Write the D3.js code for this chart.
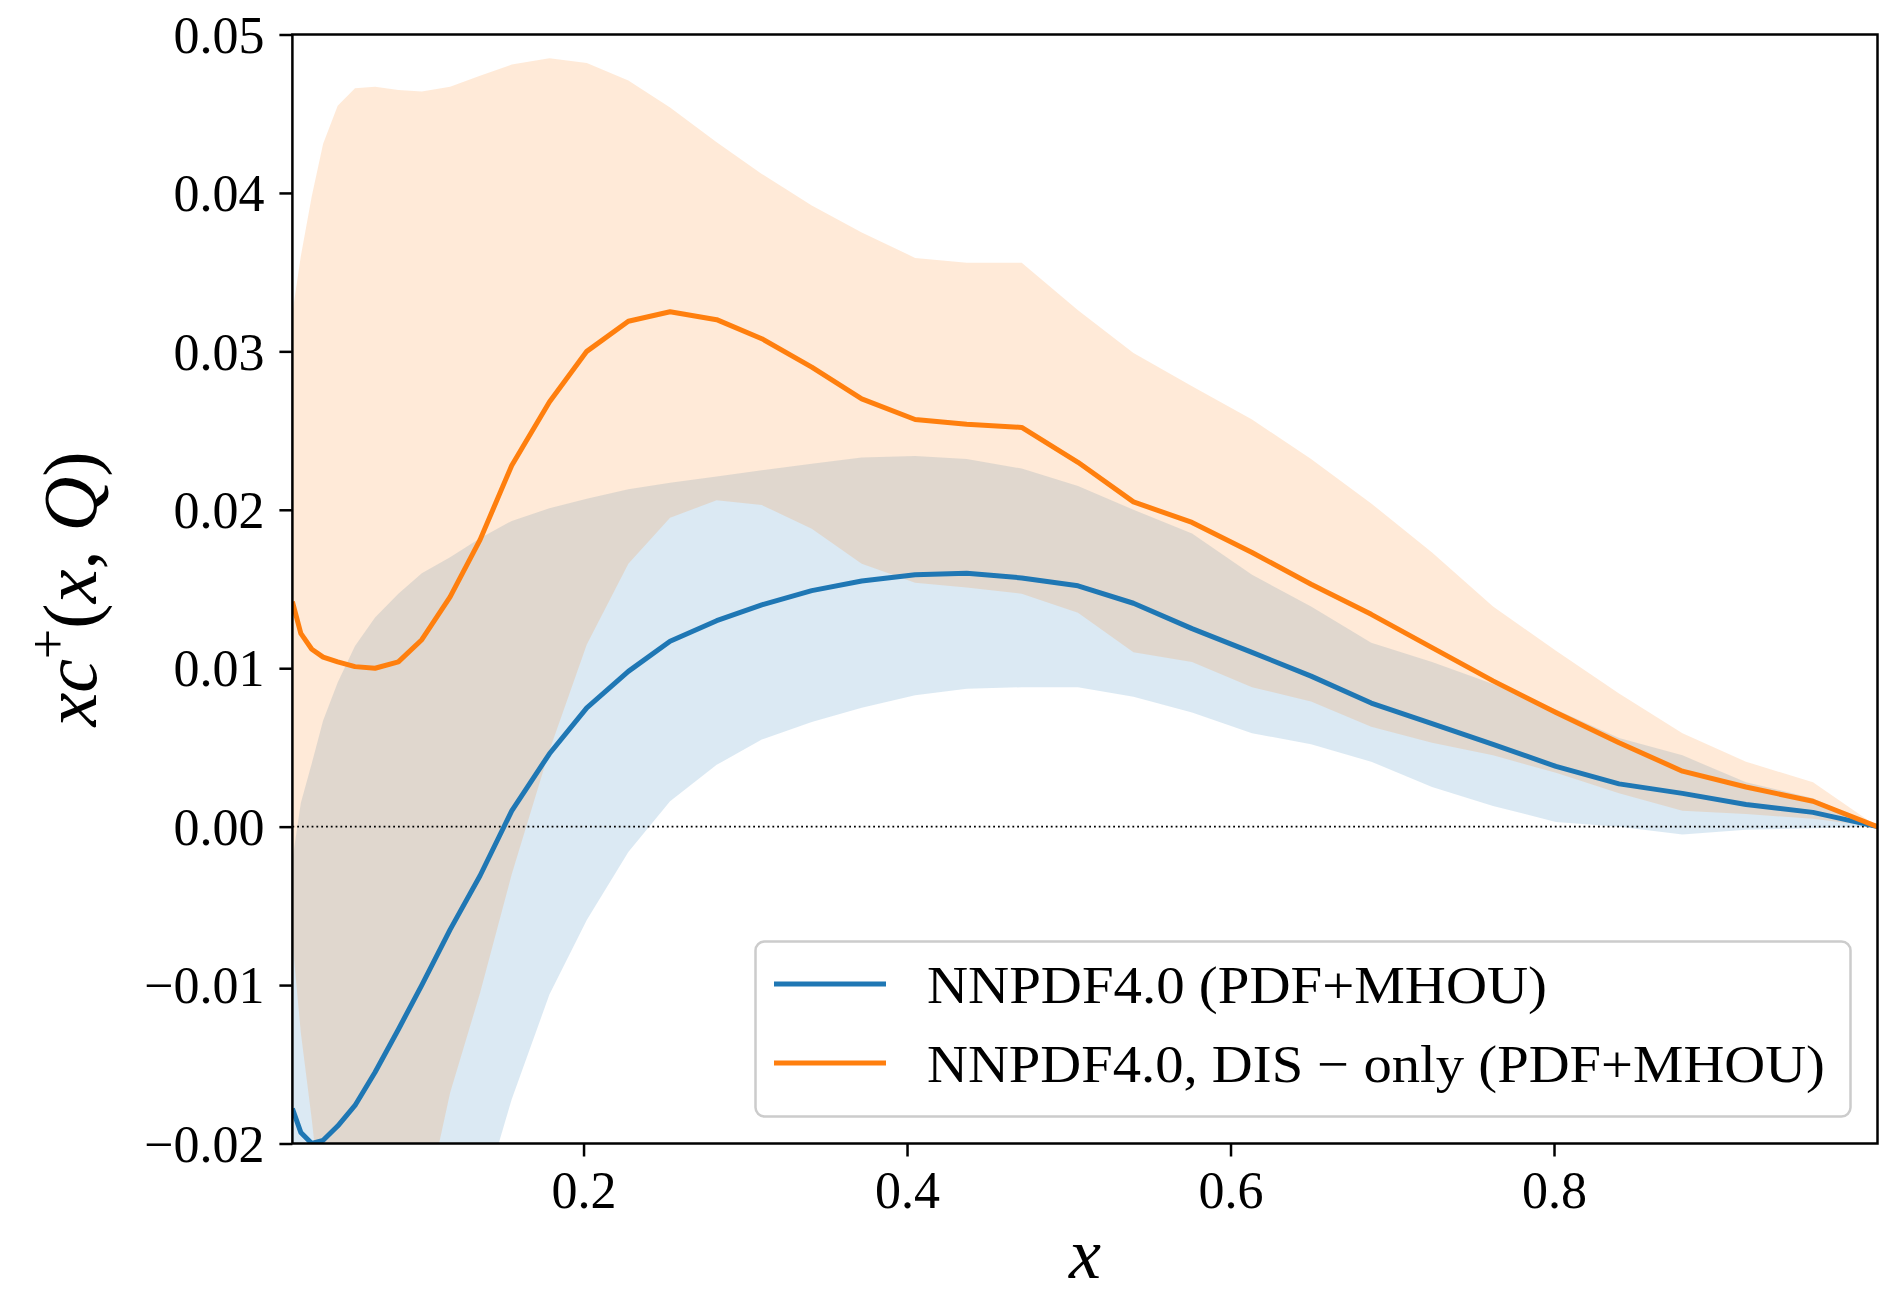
<!DOCTYPE html>
<html>
<head>
<meta charset="utf-8">
<script src="https://cdn.jsdelivr.net/npm/d3@7"></script>
<style>
  body { margin: 0; background: #fff; }
  svg { display: block; font-family: 'Liberation Serif', 'Times New Roman', serif; }
</style>
</head>
<body>
<svg id="chart"></svg>
<script>
// x grid shared by both fits
const xGrid = [
  0.02, 0.0252, 0.032, 0.039, 0.048, 0.0587, 0.0711, 0.0855, 0.1, 0.1175,
  0.136, 0.1556, 0.1789, 0.202, 0.2277, 0.2535, 0.2823, 0.3102, 0.3411, 0.372,
  0.405, 0.4369, 0.4709, 0.5057, 0.54, 0.5762, 0.6133, 0.6498, 0.687, 0.7246,
  0.7623, 0.8012, 0.8402, 0.8794, 0.9187, 0.9601, 1.0
];

// NNPDF4.0 (PDF+MHOU)
const blueCentral = [
  -0.0178, -0.0193, -0.0200, -0.0198, -0.0189, -0.0176, -0.0155, -0.0128, -0.0100, -0.0065,
  -0.0031, 0.0010, 0.0046, 0.0075, 0.0098, 0.0117, 0.0130, 0.0140, 0.0149, 0.0155,
  0.0159, 0.0160, 0.0157, 0.0152, 0.0141, 0.0125, 0.0110, 0.0095, 0.0078, 0.0065,
  0.0052, 0.0038, 0.0027, 0.0021, 0.0014, 0.0009, 0.0
];
const blueUpper = [
  -0.0021, 0.0015, 0.0040, 0.0067, 0.0091, 0.0114, 0.0132, 0.0147, 0.0160, 0.0170,
  0.0182, 0.0193, 0.0201, 0.0207, 0.0213, 0.0217, 0.0221, 0.0225, 0.0229, 0.0233,
  0.0234, 0.0232, 0.0226, 0.0215, 0.0200, 0.0185, 0.0159, 0.0139, 0.0116, 0.0104,
  0.0090, 0.0074, 0.0056, 0.0045, 0.0028, 0.0018, 0.0
];
const blueLower = [
  -0.060, -0.062, -0.062, -0.060, -0.057, -0.053, -0.048, -0.042, -0.036, -0.030,
  -0.024, -0.0172, -0.0106, -0.0059, -0.0016, 0.0016, 0.0039, 0.0055, 0.0066, 0.0075,
  0.0083, 0.0087, 0.0088, 0.0088, 0.0082, 0.0072, 0.0059, 0.0052, 0.0041, 0.0025,
  0.0013, 0.0003, 0.0000, -0.0005, -0.0002, -0.0001, 0.0
];

// NNPDF4.0, DIS-only (PDF+MHOU)
const orangeCentral = [
  0.0142, 0.0122, 0.0112, 0.0107, 0.0104, 0.0101, 0.0100, 0.0104, 0.0118, 0.0145,
  0.0181, 0.0228, 0.0268, 0.0300, 0.0319, 0.0325, 0.0320, 0.0308, 0.0290, 0.0270,
  0.0257, 0.0254, 0.0252, 0.0230, 0.0205, 0.0192, 0.0173, 0.0153, 0.0134, 0.0113,
  0.0092, 0.0072, 0.0053, 0.0035, 0.0025, 0.0016, 0.0
];
const orangeUpper = [
  0.0324, 0.0360, 0.0398, 0.0431, 0.0455, 0.0466, 0.0467, 0.0465, 0.0464, 0.0467,
  0.0474, 0.0481, 0.0485, 0.0482, 0.0471, 0.0454, 0.0432, 0.0412, 0.0392, 0.0375,
  0.0359, 0.0356, 0.0356, 0.0326, 0.0299, 0.0278, 0.0257, 0.0232, 0.0204, 0.0173,
  0.0139, 0.0111, 0.0084, 0.0059, 0.0041, 0.0028, 0.0
];
const orangeLower = [
  -0.0072, -0.0130, -0.0185, -0.0250, -0.0300, -0.0330, -0.0330, -0.0300, -0.0250, -0.0168,
  -0.0105, -0.0030, 0.0048, 0.0115, 0.0166, 0.0195, 0.0206, 0.0203, 0.0188, 0.0166,
  0.0154, 0.0151, 0.0147, 0.0135, 0.0110, 0.0104, 0.0088, 0.0079, 0.0063, 0.0053,
  0.0045, 0.0034, 0.0021, 0.0010, 0.0008, 0.0005, 0.0
];

const yTicks = [-0.02, -0.01, 0.0, 0.01, 0.02, 0.03, 0.04, 0.05];
const yTickLabels = ['\u22120.02', '\u22120.01', '0.00', '0.01', '0.02', '0.03', '0.04', '0.05'];
const xTicks = [0.2, 0.4, 0.6, 0.8];
const xTickLabels = ['0.2', '0.4', '0.6', '0.8'];
const seriesLabels = ['NNPDF4.0 (PDF+MHOU)', 'NNPDF4.0, DIS \u2212 only (PDF+MHOU)'];

class PdfPlot {
  constructor() {
    this.size = {width: 1896, height: 1294};
    this.margin = {top: 34.5, right: 18.5, bottom: 150.5, left: 292.4};
    this.colors = {blue: '#1f77b4', orange: '#ff7f0e'};
    this.BAND_ALPHA = 0.16;
    this.LINE_WIDTH = 5;
  }

  init() {
    this.innerWidth = this.size.width - this.margin.left - this.margin.right;
    this.innerHeight = this.size.height - this.margin.top - this.margin.bottom;

    this.x = d3.scaleLinear().domain([0.02, 1]).range([0, this.innerWidth]);
    this.y = d3.scaleLinear().domain([-0.02, 0.05]).range([this.innerHeight, 0]);

    this.svg = d3.select('#chart')
      .attr('width', this.size.width)
      .attr('height', this.size.height);

    this.g = this.svg.append('g')
      .attr('transform', `translate(${this.margin.left},${this.margin.top})`);

    this.g.append('clipPath')
      .attr('id', 'plot_clip')
    .append('rect')
      .attr('width', this.innerWidth)
      .attr('height', this.innerHeight);

    this.plot = this.g.append('g').attr('clip-path', 'url(#plot_clip)');

    this.renderBands();
    this.renderZeroLine();
    this.renderLines();
    this.renderAxes();
    this.renderLegend();
  }

  renderBands() {
    let band = (lo, hi) => d3.area()
      .x((d, i) => this.x(xGrid[i]))
      .y0((d, i) => this.y(lo[i]))
      .y1((d, i) => this.y(hi[i]));

    this.plot.append('path')
      .datum(xGrid)
      .attr('fill', this.colors.blue)
      .attr('fill-opacity', this.BAND_ALPHA)
      .attr('d', band(blueLower, blueUpper));

    this.plot.append('path')
      .datum(xGrid)
      .attr('fill', this.colors.orange)
      .attr('fill-opacity', this.BAND_ALPHA)
      .attr('d', band(orangeLower, orangeUpper));
  }

  renderZeroLine() {
    this.plot.append('line')
      .attr('x1', 0)
      .attr('x2', this.innerWidth)
      .attr('y1', this.y(0))
      .attr('y2', this.y(0))
      .attr('stroke', '#000')
      .attr('stroke-width', 1.6)
      .attr('stroke-dasharray', '1.8,3');
  }

  renderLines() {
    let line = (values) => d3.line()
      .x((d, i) => this.x(xGrid[i]))
      .y((d, i) => this.y(values[i]));

    [[blueCentral, this.colors.blue], [orangeCentral, this.colors.orange]]
      .forEach(([values, color]) => {
        this.plot.append('path')
          .datum(xGrid)
          .attr('fill', 'none')
          .attr('stroke', color)
          .attr('stroke-width', this.LINE_WIDTH)
          .attr('stroke-linejoin', 'round')
          .attr('d', line(values));
      });
  }

  renderAxes() {
    // Left axis
    let yAxis = this.g.append('g')
      .call(d3.axisLeft(this.y)
        .tickValues(yTicks)
        .tickFormat((d, i) => yTickLabels[i])
        .tickSize(13)
        .tickSizeOuter(0)
        .tickPadding(15));

    // Bottom axis
    let xAxis = this.g.append('g')
      .attr('transform', `translate(0,${this.innerHeight})`)
      .call(d3.axisBottom(this.x)
        .tickValues(xTicks)
        .tickFormat((d, i) => xTickLabels[i])
        .tickSize(13)
        .tickSizeOuter(0)
        .tickPadding(15));

    [yAxis, xAxis].forEach((axis) => {
      axis.select('.domain').remove();
      axis.selectAll('.tick line')
        .attr('stroke', '#000')
        .attr('stroke-width', 2.5);
      axis.selectAll('.tick text')
        .attr('fill', '#000')
        .style('font-family', "'Liberation Serif', serif")
        .style('font-size', '52px');
    });
    yAxis.selectAll('.tick text').attr('dy', '0.34em');

    // Frame
    this.g.append('rect')
      .attr('width', this.innerWidth)
      .attr('height', this.innerHeight)
      .attr('fill', 'none')
      .attr('stroke', '#000')
      .attr('stroke-width', 2.5);

    // Axis titles
    this.svg.append('text')
      .attr('x', 1085)
      .attr('y', 1278)
      .attr('text-anchor', 'middle')
      .style('font-size', '72px')
      .style('font-style', 'italic')
      .text('x');

    let yLabel = this.svg.append('text')
      .attr('transform', `translate(96,${this.margin.top + this.innerHeight / 2}) rotate(-90)`)
      .attr('text-anchor', 'middle')
      .style('font-size', '76px');
    yLabel.append('tspan').style('font-style', 'italic').text('xc');
    yLabel.append('tspan').attr('dy', -30).style('font-size', '54px').text('+');
    yLabel.append('tspan').attr('dy', 30).text('(');
    yLabel.append('tspan').style('font-style', 'italic').text('x');
    yLabel.append('tspan').text(', ');
    yLabel.append('tspan').style('font-style', 'italic').text('Q');
    yLabel.append('tspan').text(')');
  }

  renderLegend() {
    let legend = this.svg.append('g');

    legend.append('rect')
      .attr('x', 755.5)
      .attr('y', 941.5)
      .attr('width', 1095)
      .attr('height', 175)
      .attr('rx', 9)
      .attr('fill', '#fff')
      .attr('fill-opacity', 0.8)
      .attr('stroke', '#cccccc')
      .attr('stroke-width', 2.5);

    let colors = [this.colors.blue, this.colors.orange];
    let textLengths = [620, 898];

    seriesLabels.forEach((label, i) => {
      let rowY = 984 + i * 79;
      legend.append('line')
        .attr('x1', 774)
        .attr('x2', 886)
        .attr('y1', rowY)
        .attr('y2', rowY)
        .attr('stroke', colors[i])
        .attr('stroke-width', this.LINE_WIDTH);

      legend.append('text')
        .attr('x', 927)
        .attr('y', rowY + 19)
        .attr('textLength', textLengths[i])
        .attr('lengthAdjust', 'spacingAndGlyphs')
        .style('font-size', '53px')
        .text(label);
    });
  }
}

let plot = new PdfPlot();
plot.init();
</script>
</body>
</html>
